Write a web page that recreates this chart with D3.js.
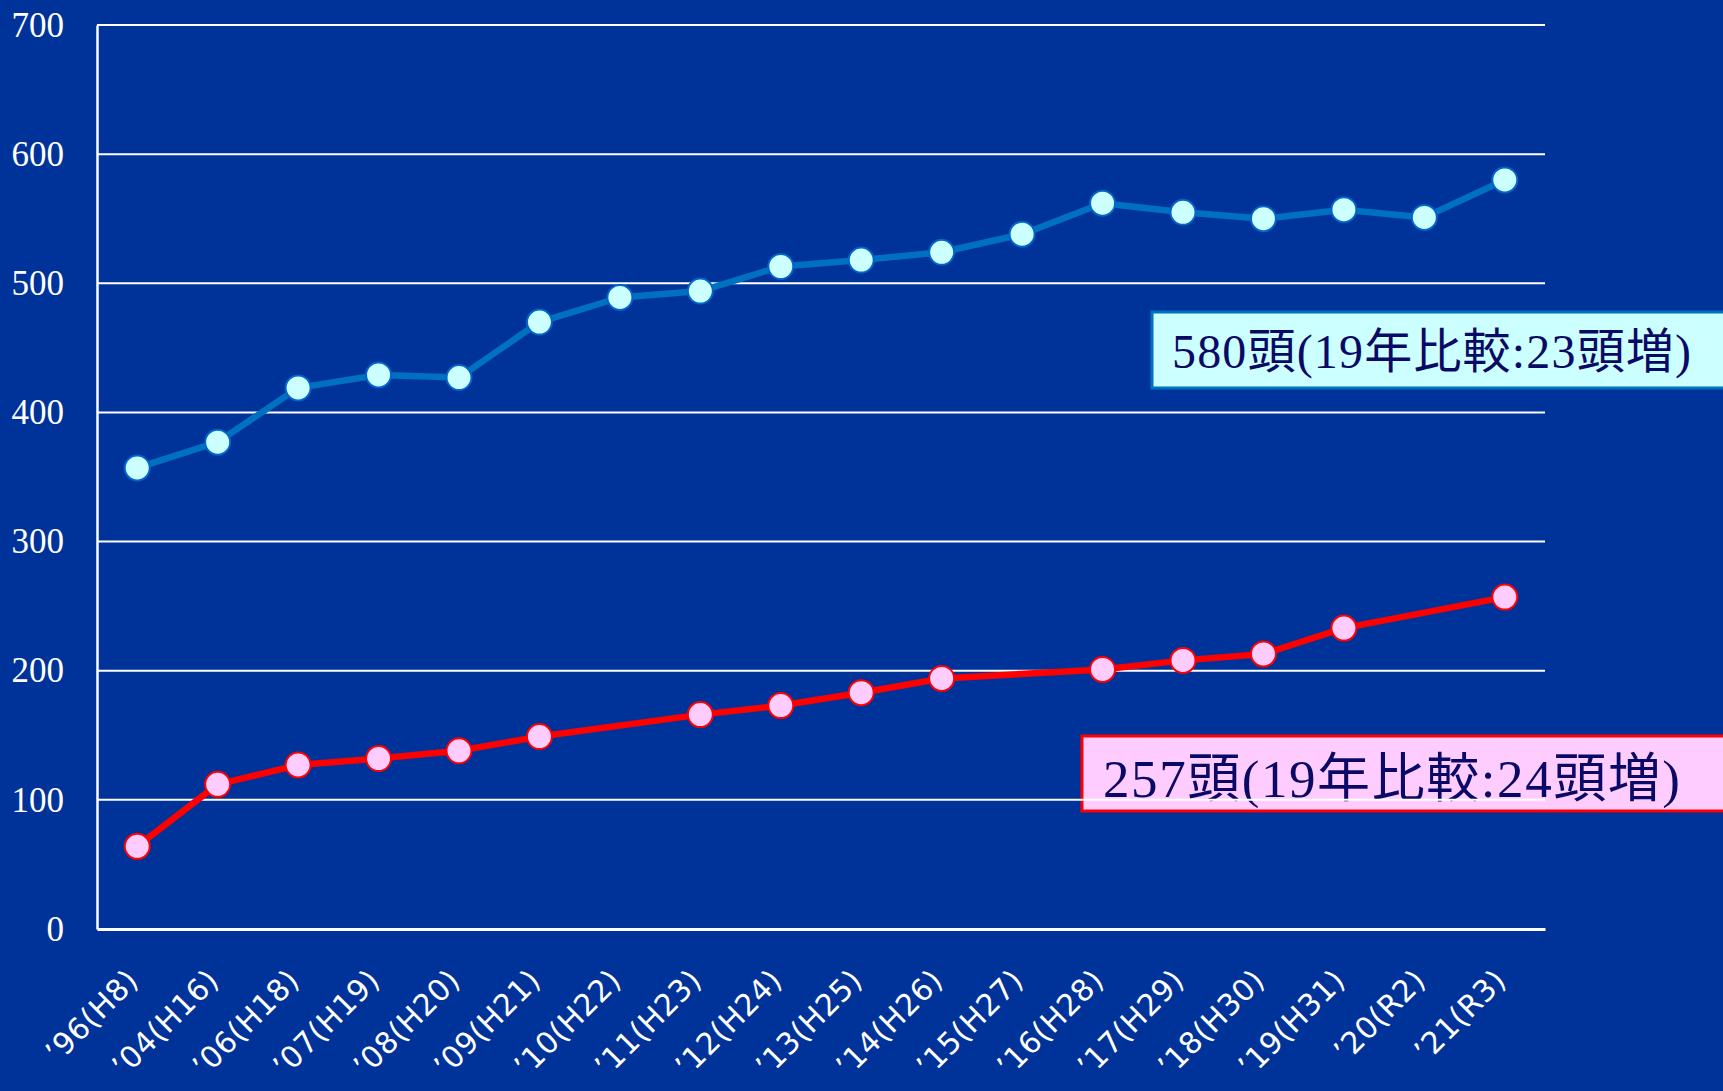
<!DOCTYPE html>
<html>
<head>
<meta charset="utf-8">
<script src="https://cdn.jsdelivr.net/npm/d3@7"></script>
<style>
  html, body { margin: 0; padding: 0; background: #003399; }
  svg { display: block; }
</style>
</head>
<body>
<svg id="chart" width="1723" height="1091"></svg>
<script>
// ---- Data ----
const categories = ["’96(H8)", "’04(H16)", "’06(H18)", "’07(H19)", "’08(H20)", "’09(H21)",
  "’10(H22)", "’11(H23)", "’12(H24)", "’13(H25)", "’14(H26)", "’15(H27)", "’16(H28)",
  "’17(H29)", "’18(H30)", "’19(H31)", "’20(R2)", "’21(R3)"];
const upperValues = [357, 377, 419, 429, 427, 470, 489, 494, 513, 518, 524, 538, 562, 555, 550, 557, 551, 580];
const lowerValues = [64, 112, 127, 132, 138, 149, null, 166, 173, 183, 194, null, 201, 208, 213, 233, null, 257];
const yTicks = [0, 100, 200, 300, 400, 500, 600, 700];
const upperNote = "580頭(19年比較:23頭増)";
const lowerNote = "257頭(19年比較:24頭増)";

// ---- Layout ----
const svg = d3.select("#chart");
const W = 1723, H = 1091;
const plot = { left: 97, right: 1545, top: 25, bottom: 929 };

svg.append("rect").attr("width", W).attr("height", H).attr("fill", "#003399");

const x = d3.scaleBand().domain(categories).range([plot.left, plot.right]).padding(0);
const cx = d => x(d) + x.bandwidth() / 2;
const y = d3.scaleLinear().domain([0, 700]).range([plot.bottom, plot.top]);

// ---- Annotation boxes (under gridlines) ----
const notes = [
  { text: upperNote, bx: 1152, by: 312, bw: 620, bh: 76, fill: "#ccffff", stroke: "#0070c0", tx: 1172, ty: 368, fs: 48, len: 519 },
  { text: lowerNote, bx: 1082, by: 736, bw: 700, bh: 75, fill: "#ffccff", stroke: "#ff0000", tx: 1103, ty: 797, fs: 53, len: 577 }
];
const ng = svg.append("g");
notes.forEach(n => {
  ng.append("rect").attr("x", n.bx).attr("y", n.by).attr("width", n.bw).attr("height", n.bh)
    .attr("fill", n.fill).attr("stroke", n.stroke).attr("stroke-width", 3);
  ng.append("text").attr("x", n.tx).attr("y", n.ty)
    .attr("font-family", "'Liberation Serif', 'Noto Sans CJK JP', serif")
    .attr("font-size", n.fs).attr("fill", "#0a0a66")
    .attr("textLength", n.len).attr("lengthAdjust", "spacing")
    .text(n.text);
});

// ---- Gridlines and axes ----
const grid = svg.append("g");
grid.selectAll("line.g").data(yTicks.filter(t => t > 0)).join("line")
  .attr("x1", plot.left).attr("x2", plot.right)
  .attr("y1", d => y(d)).attr("y2", d => y(d))
  .attr("stroke", "#ffffff").attr("stroke-width", 2);

const yAxis = d3.axisLeft(y).tickValues(yTicks).tickSize(0).tickPadding(33);
const yg = svg.append("g").attr("transform", `translate(${plot.left},0)`).call(yAxis);
yg.select(".domain").attr("stroke", "#ffffff").attr("stroke-width", 2.5);
yg.selectAll("text").attr("fill", "#ffffff")
  .attr("font-family", "'Liberation Serif', serif").attr("font-size", 35);

const xAxis = d3.axisBottom(x).tickSize(0).tickPadding(0);
const xg = svg.append("g").attr("transform", `translate(0,${plot.bottom})`).call(xAxis);
xg.select(".domain").attr("stroke", "#ffffff").attr("stroke-width", 3);
xg.selectAll(".tick text")
  .attr("fill", "#ffffff")
  .attr("font-family", "'DejaVu Sans', sans-serif")
  .attr("font-size", 30)
  .attr("letter-spacing", 0.5)
  .attr("text-anchor", "end")
  .attr("dy", 0)
  .attr("y", 0)
  .attr("transform", "translate(3,53) rotate(-45)");

// ---- Lines ----
const upperData = categories.map((c, i) => ({ c, v: upperValues[i] }));
const lowerData = categories.map((c, i) => ({ c, v: lowerValues[i] })).filter(d => d.v !== null);
const line = d3.line().x(d => cx(d.c)).y(d => y(d.v));

svg.append("path").datum(upperData).attr("d", line)
  .attr("fill", "none").attr("stroke", "#0070c0").attr("stroke-width", 6.5).attr("stroke-linejoin", "round");
svg.append("path").datum(lowerData).attr("d", line)
  .attr("fill", "none").attr("stroke", "#ff0000").attr("stroke-width", 6.5).attr("stroke-linejoin", "round");

svg.append("g").selectAll("circle").data(upperData).join("circle")
  .attr("cx", d => cx(d.c)).attr("cy", d => y(d.v)).attr("r", 12.5)
  .attr("fill", "#ccffff").attr("stroke", "#0066cc").attr("stroke-width", 2);
svg.append("g").selectAll("circle").data(lowerData).join("circle")
  .attr("cx", d => cx(d.c)).attr("cy", d => y(d.v)).attr("r", 12.5)
  .attr("fill", "#ffccff").attr("stroke", "#ff0000").attr("stroke-width", 2);
</script>
</body>
</html>
